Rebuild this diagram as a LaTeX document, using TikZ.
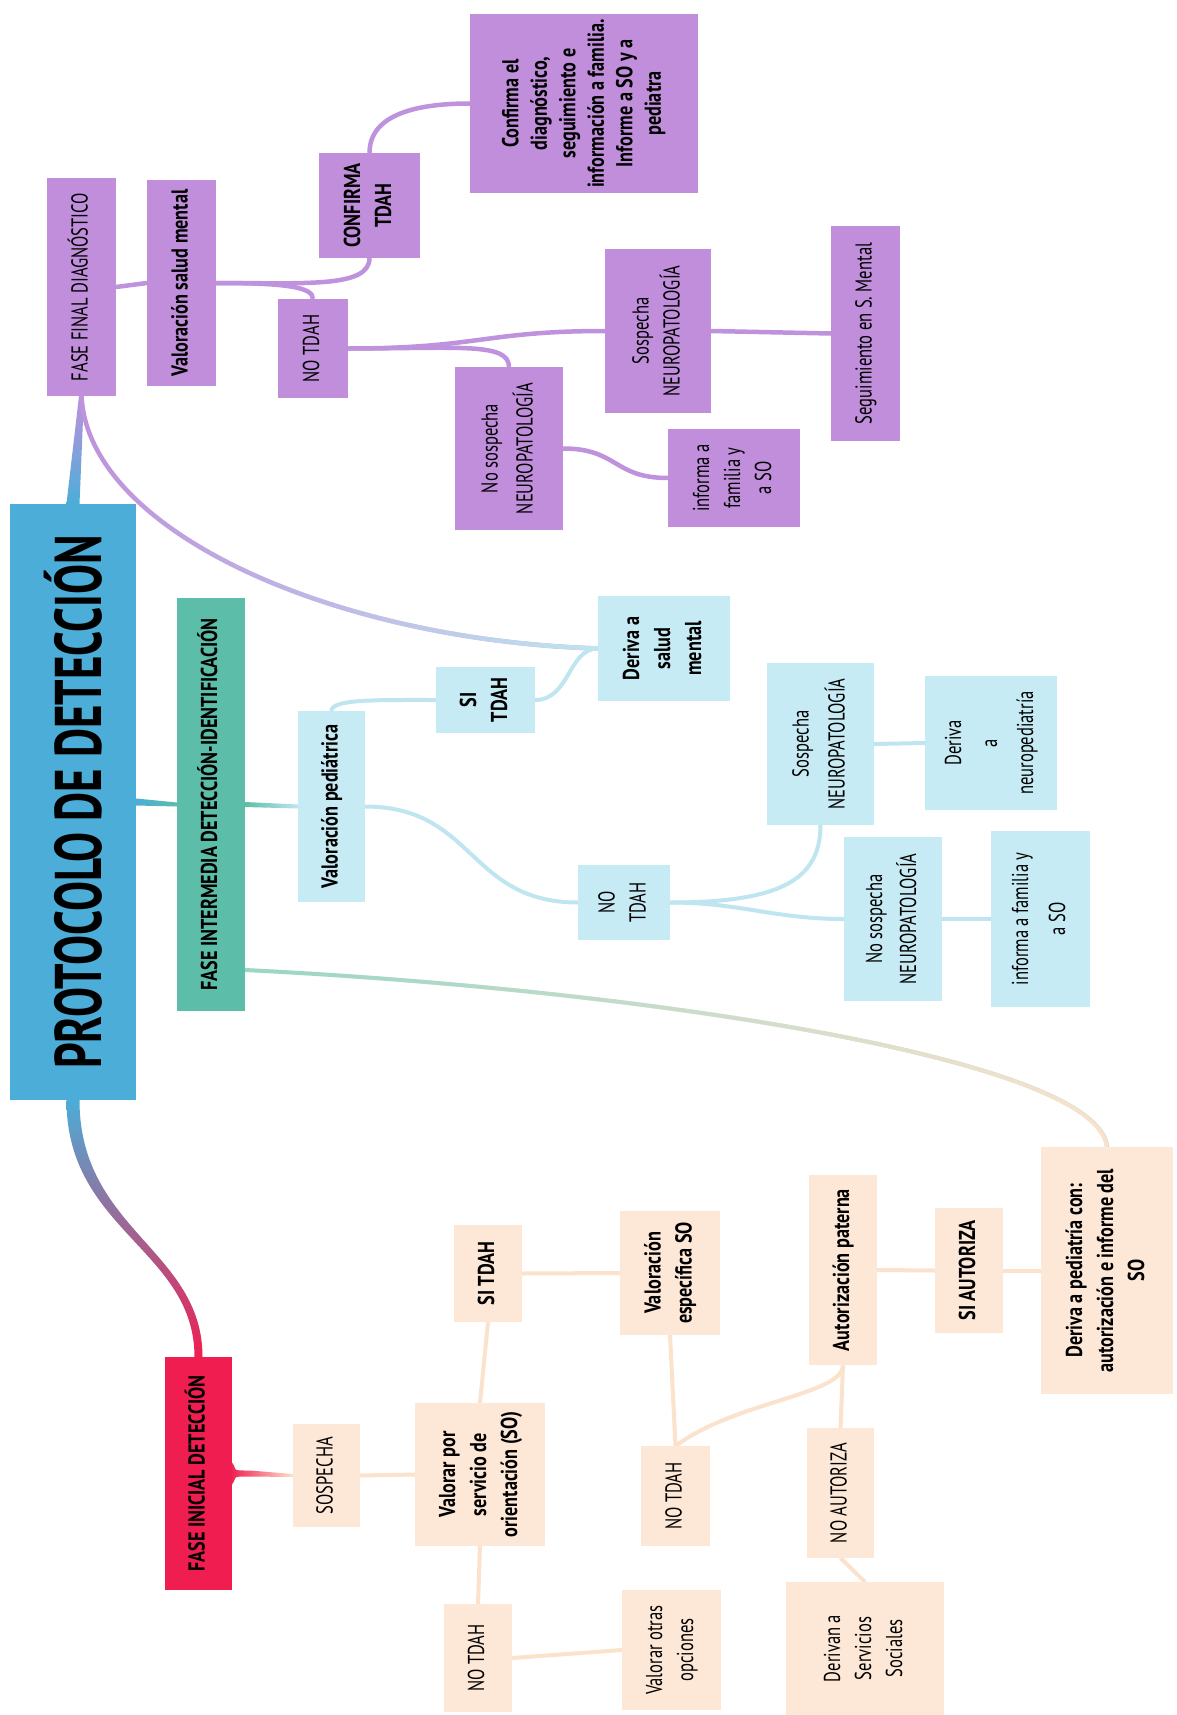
\documentclass[tikz,border=0pt]{standalone}
\usepackage{fontspec}
\usepackage{graphicx}
\setmainfont[FakeStretch=0.72, BoldFeatures={FakeStretch=0.79}]{PT Sans}
\newfontfamily\titlefont[FakeStretch=0.68]{PT Sans}
\usetikzlibrary{calc,fadings,backgrounds}
\definecolor{cblue}{HTML}{4CADD8}
\definecolor{cpurp}{HTML}{C08EDB}
\definecolor{cpurpl}{HTML}{BE92DC}
\definecolor{cteal}{HTML}{5CBEA9}
\definecolor{ctealL}{HTML}{9AD6C6}
\definecolor{clblue}{HTML}{C7EBF5}
\definecolor{clbluel}{HTML}{BFE6F0}
\definecolor{cred}{HTML}{F01E50}
\definecolor{cbeige}{HTML}{FDE8D7}
\definecolor{cbeigel}{HTML}{FBE2CD}
\tikzfading[name=fadeinright, left color=transparent!100, right color=transparent!0]
\newcommand{\rtx}[1]{\rotatebox{90}{\begin{tabular}{@{}c@{}}#1\end{tabular}}}
\tikzset{
  base/.style={inner sep=0pt, outer sep=0pt, font=\fontsize{23}{31}\selectfont, text=black},
  bf/.style={font=\fontsize{23}{31}\selectfont\bfseries},
  sz/.style 2 args={minimum width=#1pt, minimum height=#2pt},
  pbox/.style={base, fill=cpurp},
  bbox/.style={base, fill=clblue},
  obox/.style={base, fill=cbeige},
  pl/.style={draw=cpurpl, line width=4.5pt},
  bl/.style={draw=clbluel, line width=4pt},
  ol/.style={draw=cbeigel, line width=4pt},
}
\begin{document}
\begin{tikzpicture}[x=1pt,y=-1pt]
\useasboundingbox (0,0) rectangle (1177,1715);
% ---------- purple branch
\node[pbox, sz={69}{218}] (ffinal) at (81.5,287) {\rtx{FASE FINAL DIAGNÓSTICO}};
\node[pbox, bf, sz={69}{206}] (vsm) at (181.5,283) {\rtx{Valoración salud mental}};
\node[pbox, bf, sz={101}{105}] (conf) at (369.5,205.5) {\rtx{CONFIRMA\\TDAH}};
\node[pbox, sz={70}{99}] (notdahP) at (313,348.5) {\rtx{NO TDAH}};
\node[pbox, sz={108}{163}] (nosospP) at (509,448.5) {\rtx{No sospecha\\[4pt]NEUROPATOLOGÍA}};
\node[pbox, sz={228}{179}, font=\fontsize{23}{28.5}\selectfont\bfseries] (confdiag) at (584,103.5) {\rtx{Confirma el\\diagnóstico,\\seguimiento e\\información a familia.\\Informe a SO y a\\pediatra}};
\node[pbox, sz={106}{164}] (sospP) at (658,331) {\rtx{Sospecha\\NEUROPATOLOGÍA}};
\node[pbox, sz={69}{215}] (seguim) at (865.5,333.5) {\rtx{Seguimiento en S. Mental}};
\node[pbox, sz={132}{98}] (informaP) at (734,478) {\rtx{informa a\\familia y\\a SO}};
% ---------- main
\node[inner sep=0pt, fill=cblue, sz={126}{596}, font=\titlefont\bfseries\fontsize{66}{70}\selectfont] (main) at (73,802) {\rotatebox{90}{PROTOCOLO DE DETECCIÓN}};
% ---------- blue branch
\node[base, bf, fill=cteal, sz={68}{413}] (fint) at (211,804.5) {\rtx{FASE INTERMEDIA DETECCIÓN-IDENTIFICACIÓN}};
\node[bbox, bf, sz={67}{191}] (vped) at (331.5,806.5) {\rtx{Valoración pediátrica}};
\node[bbox, bf, sz={99}{66}] (sitdahB) at (485.5,700) {\rtx{SI\\TDAH}};
\node[bbox, bf, sz={132}{105}] (derivaSM) at (664,648.5) {\rtx{Deriva a\\salud\\mental}};
\node[bbox, sz={92}{75}] (notdahB) at (624,902.5) {\rtx{NO\\TDAH}};
\node[bbox, sz={107}{162}] (sospB) at (820.5,744) {\rtx{Sospecha\\[5pt]NEUROPATOLOGÍA}};
\node[bbox, sz={132}{134}] (derivaNeuro) at (991,743) {\rtx{Deriva\\[5pt]a\\[5pt]neuropediatría}};
\node[bbox, sz={98}{164}] (nosospB) at (893,919) {\rtx{No sospecha\\[3pt]NEUROPATOLOGÍA}};
\node[bbox, sz={99}{176}] (informaB) at (1040.5,919) {\rtx{informa a familia y\\[6pt]a SO}};
% ---------- beige branch
\node[base, bf, fill=cred, sz={67}{233}] (finicial) at (198.5,1473.5) {\rtx{FASE INICIAL DETECCIÓN}};
\node[obox, sz={67}{103}] (sospecha) at (326.5,1475.5) {\rtx{SOSPECHA}};
\node[obox, bf, sz={130}{143}] (valorar) at (480,1474.5) {\rtx{Valorar por\\servicio de\\orientación (SO)}};
\node[obox, bf, sz={68}{97}] (sitdahO) at (488,1273.5) {\rtx{SI TDAH}};
\node[obox, sz={68}{108}] (notdahO1) at (478,1658) {\rtx{NO TDAH}};
\node[obox, bf, sz={100}{124}] (valesp) at (670,1273) {\rtx{Valoración\\específica SO}};
\node[obox, sz={69}{100}] (notdahO2) at (675.5,1496) {\rtx{NO TDAH}};
\node[obox, sz={99}{120}] (votras) at (671.5,1650) {\rtx{Valorar otras\\opciones}};
\node[obox, bf, sz={68}{190}] (autoriz) at (843,1270) {\rtx{Autorización paterna}};
\node[obox, sz={67}{130}] (noautoriza) at (840.5,1493) {\rtx{NO AUTORIZA}};
\node[obox, sz={158}{133}] (derivaSS) at (865,1648.5) {\rtx{Derivan a\\Servicios\\Sociales}};
\node[obox, bf, sz={68}{125}] (siautoriza) at (969,1270.5) {\rtx{SI AUTORIZA}};
\node[obox, bf, sz={132}{247}] (derivaPed) at (1107,1270.5) {\rtx{Deriva a pediatría con:\\autorización e informe del\\SO}};

\begin{pgfonlayer}{background}
\fill[white] (0,0) rectangle (1177,1715);
% main -> final
\shade[top color=cpurpl, bottom color=cblue] ($(main.north)+(-6.5,0)$) -- ($(ffinal.south)+(-2.5,0)$) -- ($(ffinal.south)+(2.5,0)$) -- ($(main.north)+(6.5,0)$) -- cycle;
% purple connectors
\draw[pl] (ffinal.east) -- (vsm.west);
\draw[pl] (vsm.east) .. controls +(90,0) and +(0,30) .. (conf.south);
\draw[pl] (vsm.east) .. controls +(70,0) and +(0,-12) .. (notdahP.north);
\draw[pl] (conf.north) .. controls +(0,-40) and +(-50,0) .. (confdiag.west);
\draw[pl] (notdahP.east) .. controls +(130,0) and +(-120,0) .. (sospP.west);
\draw[pl] (notdahP.east) .. controls +(110,0) and +(0,-25) .. (nosospP.north);
\draw[pl] (sospP.east) -- (seguim.west);
\draw[pl] (nosospP.east) .. controls +(55,0) and +(-55,0) .. (informaP.west);
% final -> deriva salud mental (purple to blue)
\draw[pl] (ffinal.south) .. controls (88,530) and (330,640) .. (derivaSM.west);
\draw[draw=clbluel, line width=4.5pt, path fading=fadeinright] (ffinal.south) .. controls (88,530) and (330,640) .. (derivaSM.west);
% main -> intermedia
\shade[left color=cblue, right color=cteal] ($(main.east)+(0,-3.5)$) -- ($(fint.west)+(0,-2)$) -- ($(fint.west)+(0,2)$) -- ($(main.east)+(0,3.5)$) -- cycle;
\shade[left color=cteal, right color=clbluel] ($(fint.east)+(0,-2.5)$) -- ($(vped.west)+(0,-2)$) -- ($(vped.west)+(0,2)$) -- ($(fint.east)+(0,2.5)$) -- cycle;
% blue connectors
\draw[bl] (vped.north) .. controls +(0,-12) and +(-60,0) .. (sitdahB.west);
\draw[bl] (sitdahB.east) .. controls +(35,0) and +(-30,0) .. (derivaSM.west);
\draw[bl] (vped.east) .. controls +(110,0) and +(-110,0) .. (notdahB.west);
\draw[bl] (notdahB.east) .. controls +(110,0) and +(0,55) .. (sospB.south);
\draw[bl] (notdahB.east) .. controls +(70,0) and +(-70,0) .. (nosospB.west);
\draw[bl] (sospB.east) -- (derivaNeuro.west);
\draw[bl] (nosospB.east) -- (informaB.west);
% intermedia -> deriva a pediatria (teal to beige)
\draw[draw=ctealL, line width=4pt] ($(fint.south east)+(0,-41)$) .. controls (650,990) and (1100,1060) .. (derivaPed.north);
\draw[draw=cbeigel, line width=4pt, path fading=fadeinright] ($(fint.south east)+(0,-41)$) .. controls (650,990) and (1100,1060) .. (derivaPed.north);
% main -> inicial
\shade[top color=cblue, bottom color=cred] ($(main.south)+(-6.5,0)$) .. controls +(0,130) and +(0,-107) .. ($(finicial.north)+(-4,0)$) -- ($(finicial.north)+(4,0)$) .. controls +(0,-107) and +(0,130) .. ($(main.south)+(6.5,0)$) -- cycle;
% inicial -> sospecha spike
\shade[left color=cred, right color=cbeigel] ($(finicial.east)+(0,-11)$) .. controls +(6,8) and +(-20,0) .. ($(finicial.east)+(18,-3)$) -- ($(sospecha.west)+(0,-1.5)$) -- ($(sospecha.west)+(0,1.5)$) -- ($(finicial.east)+(18,3)$) .. controls +(-20,0) and +(6,-8) .. ($(finicial.east)+(0,11)$) -- cycle;
% beige connectors
\draw[ol] (sospecha.east) -- (valorar.west);
\draw[ol] (valorar.north) -- (sitdahO.south);
\draw[ol] (valorar.south) -- (notdahO1.north);
\draw[ol] (sitdahO.east) -- (valesp.west);
\draw[ol] (notdahO1.east) -- (votras.west);
\draw[ol] (valesp.south) -- (notdahO2.north);
\draw[ol] (notdahO2.north) .. controls +(60,-45) and +(0,30) .. (autoriz.south);
\draw[ol] (autoriz.south) -- (noautoriza.north);
\draw[ol] (autoriz.east) -- (siautoriza.west);
\draw[ol] (siautoriza.east) -- (derivaPed.west);
\draw[ol] (noautoriza.south) -- (derivaSS.north);
\end{pgfonlayer}
\end{tikzpicture}
\end{document}
